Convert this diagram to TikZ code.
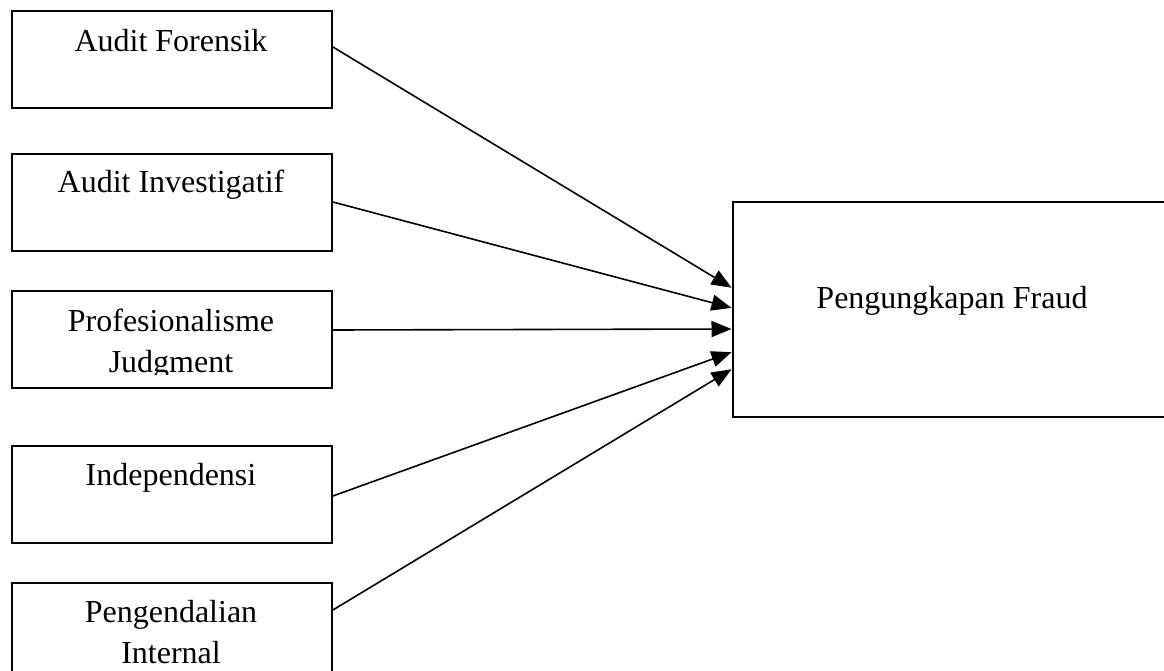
\documentclass[tikz,border=0pt]{standalone}
\usepackage{fontspec}
\setmainfont{Liberation Serif}
\usetikzlibrary{calc,arrows.meta}
\tikzset{
  box/.style={draw=black, line width=1.9pt, rectangle, inner sep=0pt, anchor=north west},
  lbox/.style={box, minimum width=320pt, minimum height=97pt},
  txt/.style={inner sep=0pt, anchor=base, font=\fontsize{32}{41}\selectfont},
  conn/.style={line width=1.6pt, -{Triangle[length=20pt,width=16pt]}, shorten >=0.5pt}
}
\begin{document}
\begin{tikzpicture}[x=1pt,y=-1pt]
\useasboundingbox (0,0) rectangle (1164,671);
\clip (0,0) rectangle (1164,671);
\node[lbox] (b1) at (11,10) {};
\node[lbox] (b2) at (11,153) {};
\node[lbox] (b3) at (11,290) {};
\node[lbox] (b4) at (11,445) {};
\node[lbox] (b5) at (11,582) {};
\node[box, minimum width=440pt, minimum height=215pt] (t) at (732,201) {};

\node[txt] (l1) at (171,52) {Audit Forensik};
\node[txt] (l2) at (171,193) {Audit Investigatif};
\node[txt] (l3a) at (171,331) {Profesionalisme};
\begin{scope}
\clip (11,290) rectangle (331,374);
\node[txt] (l3b) at (171,372) {Judgment};
\end{scope}
\node[txt] (l4) at (171,485) {Independensi};
\node[txt] (l5a) at (171,622) {Pengendalian};
\node[txt] (l5b) at (171,663) {Internal};
\node[txt] (lt) at (952,308) {Pengungkapan Fraud};

\draw[conn] ($(b1.north east)+(0,37)$) -- ($(t.north west)+(0,87)$);
\draw[conn] ($(b2.north east)+(0,49)$) -- ($(t.north west)+(0,107)$);
\draw[conn] ($(b3.north east)+(0,40)$) -- ($(t.north west)+(0,128)$);
\draw[conn] ($(b4.north east)+(0,51)$) -- ($(t.north west)+(0,151)$);
\draw[conn] ($(b5.north east)+(0,28)$) -- ($(t.north west)+(0,168)$);
\end{tikzpicture}
\end{document}
